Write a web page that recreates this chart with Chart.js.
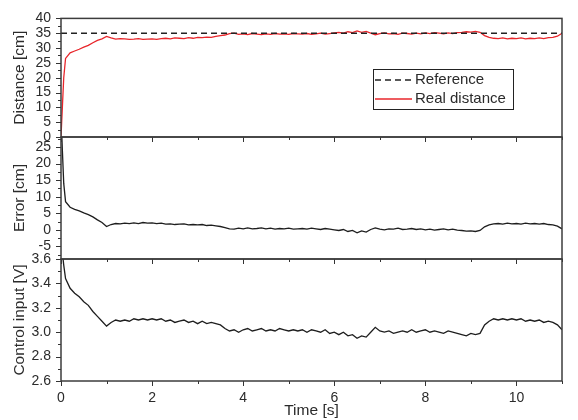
<!DOCTYPE html>
<html>
<head>
<meta charset="utf-8">
<script src="https://cdn.jsdelivr.net/npm/chart.js@4.4.0/dist/chart.umd.min.js"></script>
<style>
    body { margin: 0; background: #fff; }
    #wrap { position: relative; width: 578px; height: 420px; }
    #wrap canvas { position: absolute; left: 0; top: 0; }
</style>
</head>
<body>
<div id="wrap">
    <canvas id="distChart" width="578" height="420"></canvas>
    <canvas id="errChart" width="578" height="420"></canvas>
    <canvas id="ctrlChart" width="578" height="420"></canvas>
</div>
<script>
// time axis [s]
const time = [0, 0.03, 0.06,
    0.1, 0.2, 0.3, 0.4, 0.5, 0.6, 0.7, 0.8, 0.9, 1.0,
    1.1, 1.2, 1.3, 1.4, 1.5, 1.6, 1.7, 1.8, 1.9, 2.0,
    2.1, 2.2, 2.3, 2.4, 2.5, 2.6, 2.7, 2.8, 2.9, 3.0,
    3.1, 3.2, 3.3, 3.4, 3.5, 3.6, 3.7, 3.8, 3.9, 4.0,
    4.1, 4.2, 4.3, 4.4, 4.5, 4.6, 4.7, 4.8, 4.9, 5.0,
    5.1, 5.2, 5.3, 5.4, 5.5, 5.6, 5.7, 5.8, 5.9, 6.0,
    6.1, 6.2, 6.3, 6.4, 6.5, 6.6, 6.7, 6.8, 6.9, 7.0,
    7.1, 7.2, 7.3, 7.4, 7.5, 7.6, 7.7, 7.8, 7.9, 8.0,
    8.1, 8.2, 8.3, 8.4, 8.5, 8.6, 8.7, 8.8, 8.9, 9.0,
    9.1, 9.2, 9.3, 9.4, 9.5, 9.6, 9.7, 9.8, 9.9, 10.0,
    10.1, 10.2, 10.3, 10.4, 10.5, 10.6, 10.7, 10.8, 10.9, 11.0];

// measured distance [cm]
const distance = [0, 10, 20,
    26.5, 28.4, 29.0, 29.6, 30.3, 30.9, 31.8, 32.6, 33.1, 33.9,
    33.4, 33.0, 33.2, 33.1, 32.9, 33.0, 33.2, 32.9, 33.0, 33.1,
    32.9, 33.2, 33.3, 33.1, 33.4, 33.3, 33.2, 33.5, 33.3, 33.6,
    33.5, 33.7, 33.6, 33.9, 34.2, 34.4, 34.9, 35.0, 34.6, 34.8,
    34.5, 34.9, 34.7, 34.5, 34.8, 34.6, 34.9, 34.7, 34.8, 34.6,
    34.9, 34.8, 34.7, 34.9, 34.6, 34.8, 35.0, 34.7, 34.9, 35.1,
    35.3, 35.0, 35.5, 35.2, 35.8, 35.3, 35.6, 35.0, 34.5, 34.9,
    35.1, 34.8, 34.9, 34.6, 35.0, 34.9, 34.7, 35.0, 34.8, 35.1,
    34.9, 35.2, 35.0, 34.8, 35.1, 34.9, 35.2, 35.3, 35.5, 35.4,
    35.6, 35.3, 34.2, 33.6, 33.3, 33.2, 33.4, 33.1, 33.3, 33.2,
    33.4, 33.1, 33.3, 33.2, 33.4, 33.2, 33.5, 33.6, 34.0, 35.0];

// reference line [cm]
const refTime = [0, 11];
const reference = [35, 35];

// error [cm]
const error = [35, 24, 14,
    8.5, 6.8, 6.2, 5.7, 5.1, 4.6, 3.9, 3.0, 2.2, 1.0,
    1.6, 1.9, 1.8, 2.0, 1.9, 2.1, 1.9, 2.2, 2.0, 2.1,
    1.9, 2.0, 1.7, 1.8, 1.6, 1.7, 1.8, 1.5, 1.6, 1.5,
    1.6, 1.3, 1.4, 1.2, 1.0, 0.7, 0.3, 0.2, 0.5, 0.3,
    0.6, 0.3, 0.4, 0.6, 0.3, 0.5, 0.2, 0.4, 0.3, 0.5,
    0.2, 0.3, 0.4, 0.2, 0.5, 0.3, 0.1, 0.4, 0.2, 0.0,
    -0.2, 0.1, -0.5, -0.2, -0.9, -0.3, -0.7, 0.1, 0.6, 0.2,
    0.0, 0.3, 0.2, 0.5, 0.1, 0.2, 0.4, 0.1, 0.3, 0.0,
    0.2, -0.1, 0.1, 0.3, 0.0, 0.2, -0.1, -0.2, -0.4, -0.3,
    -0.5, -0.2, 0.9, 1.5, 1.8, 1.9, 1.7, 2.0, 1.8, 1.9,
    1.7, 2.0, 1.8, 1.9, 1.7, 1.9, 1.6, 1.5, 1.1, 0.3];

// control input [V]
const control = [3.8, 3.65, 3.55,
    3.44, 3.36, 3.32, 3.29, 3.25, 3.22, 3.17, 3.13, 3.09, 3.05,
    3.08, 3.10, 3.09, 3.10, 3.09, 3.11, 3.10, 3.11, 3.10, 3.11,
    3.10, 3.11, 3.09, 3.10, 3.08, 3.09, 3.10, 3.08, 3.09, 3.07,
    3.09, 3.07, 3.08, 3.07, 3.06, 3.03, 3.01, 3.02, 3.00, 3.02,
    3.03, 3.01, 3.02, 3.03, 3.01, 3.02, 3.01, 3.03, 3.02, 3.01,
    3.02, 3.01, 3.02, 3.00, 3.02, 3.01, 3.00, 3.02, 2.99, 3.00,
    2.98, 3.00, 2.97, 2.98, 2.95, 2.97, 2.96, 3.00, 3.04, 3.01,
    3.00, 3.01, 2.99, 3.00, 3.01, 3.00, 3.02, 3.00, 3.01, 3.02,
    3.00, 3.01, 3.00, 2.99, 3.01, 3.00, 2.99, 2.98, 2.97, 2.99,
    2.98, 2.99, 3.06, 3.09, 3.11, 3.10, 3.11, 3.10, 3.11, 3.10,
    3.11, 3.09, 3.10, 3.09, 3.10, 3.08, 3.09, 3.08, 3.06, 3.02];

// tick values
const xTicks = [0, 2, 4, 6, 8, 10];
const xMinor = [1, 3, 5, 7, 9, 11];
const distTicks = [0, 5, 10, 15, 20, 25, 30, 35, 40];
const distMinor = [2.5, 7.5, 12.5, 17.5, 22.5, 27.5, 32.5, 37.5];
const errTicks = [-5, 0, 5, 10, 15, 20, 25];
const errMinor = [-7.5, -2.5, 2.5, 7.5, 12.5, 17.5, 22.5, 27.5];
const ctrlTicks = [2.6, 2.8, 3.0, 3.2, 3.4, 3.6];
const ctrlMinor = [2.7, 2.9, 3.1, 3.3, 3.5];

const FONT = 'Liberation Sans, Arial, sans-serif';
const TEXT = '#2b2b2b';

function pts(xs, ys) {
    return xs.map((t, i) => ({ x: t, y: ys[i] }));
}

// frame + tick marks (Origin style)
const frameTicks = {
    id: 'frameTicks',
    afterDraw(chart, args, opts) {
        const ctx = chart.ctx;
        const a = chart.chartArea;
        const xs = chart.scales.x;
        const ys = chart.scales.y;
        ctx.save();
        ctx.strokeStyle = '#333';
        ctx.lineWidth = 1;
        const mark = (x1, y1, x2, y2) => {
            ctx.beginPath();
            ctx.moveTo(x1, y1);
            ctx.lineTo(x2, y2);
            ctx.stroke();
        };
        opts.yMajor.forEach(v => {
            const p = Math.round(ys.getPixelForValue(v)) + 0.5;
            mark(a.left - 5, p, a.left, p);
        });
        opts.yMinor.forEach(v => {
            const p = Math.round(ys.getPixelForValue(v)) + 0.5;
            mark(a.left - 3, p, a.left, p);
        });
        xTicks.forEach(v => {
            const p = Math.round(xs.getPixelForValue(v)) + 0.5;
            mark(p, a.bottom, p, a.bottom + 5);
        });
        xMinor.forEach(v => {
            const p = Math.round(xs.getPixelForValue(v)) + 0.5;
            mark(p, a.bottom, p, a.bottom + 3);
        });
        ctx.strokeStyle = '#3c3c3c';
        ctx.lineWidth = 1.5;
        ctx.strokeRect(a.left, a.top, a.right - a.left, a.bottom - a.top);
        ctx.restore();
    }
};

// legend box inside the top panel
const boxLegend = {
    id: 'boxLegend',
    afterDraw(chart, args, opts) {
        if (!opts.show) return;
        const ctx = chart.ctx;
        const ds = chart.data.datasets;
        ctx.save();
        ctx.fillStyle = '#fff';
        ctx.fillRect(373, 69, 140, 40);
        ctx.strokeStyle = '#222';
        ctx.lineWidth = 1;
        ctx.strokeRect(373.5, 69.5, 140, 40);
        ds.forEach((d, i) => {
            const yy = 80 + i * 19;
            ctx.strokeStyle = d.borderColor;
            ctx.lineWidth = d.borderWidth;
            ctx.setLineDash(d.borderDash || []);
            ctx.beginPath();
            ctx.moveTo(375, yy);
            ctx.lineTo(412, yy);
            ctx.stroke();
            ctx.setLineDash([]);
            ctx.fillStyle = TEXT;
            ctx.font = '15px ' + FONT;
            ctx.textBaseline = 'middle';
            ctx.fillText(d.label, 415, yy);
        });
        ctx.restore();
    }
};

Chart.register(frameTicks, boxLegend);

function yTitle(text) {
    return {
        display: true,
        text: text,
        color: TEXT,
        padding: { top: 10, bottom: 0 },
        font: { family: FONT, size: 15.5 }
    };
}

function yTickOpts(fmt) {
    const t = { padding: 10, color: TEXT, autoSkip: false, font: { family: FONT, size: 14 } };
    if (fmt) t.callback = fmt;
    return t;
}

const hiddenX = {
    type: 'linear',
    min: 0,
    max: 11,
    display: false
};

const distChart = new Chart(document.getElementById('distChart'), {
    type: 'line',
    data: {
        datasets: [{
            label: 'Reference',
            data: pts(refTime, reference),
            borderColor: '#222',
            borderWidth: 1.3,
            borderDash: [6, 4],
            pointRadius: 0
        }, {
            label: 'Real distance',
            data: pts(time, distance),
            borderColor: '#e8262b',
            borderWidth: 1.3,
            pointRadius: 0
        }]
    },
    options: {
        responsive: false,
        animation: false,
        layout: { padding: { top: 16, bottom: 283, right: 16, left: 0 } },
        scales: {
            x: hiddenX,
            y: {
                min: 0,
                max: 40,
                afterFit: s => { s.width = 61; },
                afterBuildTicks: s => { s.ticks = distTicks.map(v => ({ value: v })); },
                grid: { display: false, drawTicks: false },
                border: { display: false },
                ticks: yTickOpts(),
                title: yTitle('Distance [cm]')
            }
        },
        plugins: {
            legend: { display: false },
            tooltip: { enabled: false },
            frameTicks: { yMajor: distTicks, yMinor: distMinor },
            boxLegend: { show: true }
        }
    }
});

const errChart = new Chart(document.getElementById('errChart'), {
    type: 'line',
    data: {
        datasets: [{
            label: 'Error',
            data: pts(time, error),
            borderColor: '#1e1e1e',
            borderWidth: 1.3,
            pointRadius: 0
        }]
    },
    options: {
        responsive: false,
        animation: false,
        layout: { padding: { top: 137, bottom: 161, right: 16, left: 0 } },
        scales: {
            x: hiddenX,
            y: {
                min: -8.8,
                max: 28,
                afterFit: s => { s.width = 61; },
                afterBuildTicks: s => { s.ticks = errTicks.map(v => ({ value: v })); },
                grid: { display: false, drawTicks: false },
                border: { display: false },
                ticks: yTickOpts(),
                title: yTitle('Error [cm]')
            }
        },
        plugins: {
            legend: { display: false },
            tooltip: { enabled: false },
            frameTicks: { yMajor: errTicks, yMinor: errMinor },
            boxLegend: { show: false }
        }
    }
});

const ctrlChart = new Chart(document.getElementById('ctrlChart'), {
    type: 'line',
    data: {
        datasets: [{
            label: 'Control input',
            data: pts(time, control),
            borderColor: '#1e1e1e',
            borderWidth: 1.3,
            pointRadius: 0
        }]
    },
    options: {
        responsive: false,
        animation: false,
        layout: { padding: { top: 259, bottom: 0, right: 16, left: 0 } },
        scales: {
            x: {
                type: 'linear',
                min: 0,
                max: 11,
                afterFit: s => { s.height = 39; },
                afterBuildTicks: s => { s.ticks = xTicks.map(v => ({ value: v })); },
                grid: { display: false, drawTicks: false },
                border: { display: false },
                ticks: { padding: 9, maxRotation: 0, autoSkip: false, color: TEXT, font: { family: FONT, size: 14 } },
                title: {
                    display: true,
                    text: 'Time [s]',
                    color: TEXT,
                    padding: { top: 0, bottom: 0 },
                    font: { family: FONT, size: 15.5 }
                }
            },
            y: {
                min: 2.6,
                max: 3.6,
                afterFit: s => { s.width = 61; },
                afterBuildTicks: s => { s.ticks = ctrlTicks.map(v => ({ value: v })); },
                grid: { display: false, drawTicks: false },
                border: { display: false },
                ticks: yTickOpts(v => v.toFixed(1)),
                title: yTitle('Control input [V]')
            }
        },
        plugins: {
            legend: { display: false },
            tooltip: { enabled: false },
            frameTicks: { yMajor: ctrlTicks, yMinor: ctrlMinor },
            boxLegend: { show: false }
        }
    }
});
</script>
</body>
</html>
